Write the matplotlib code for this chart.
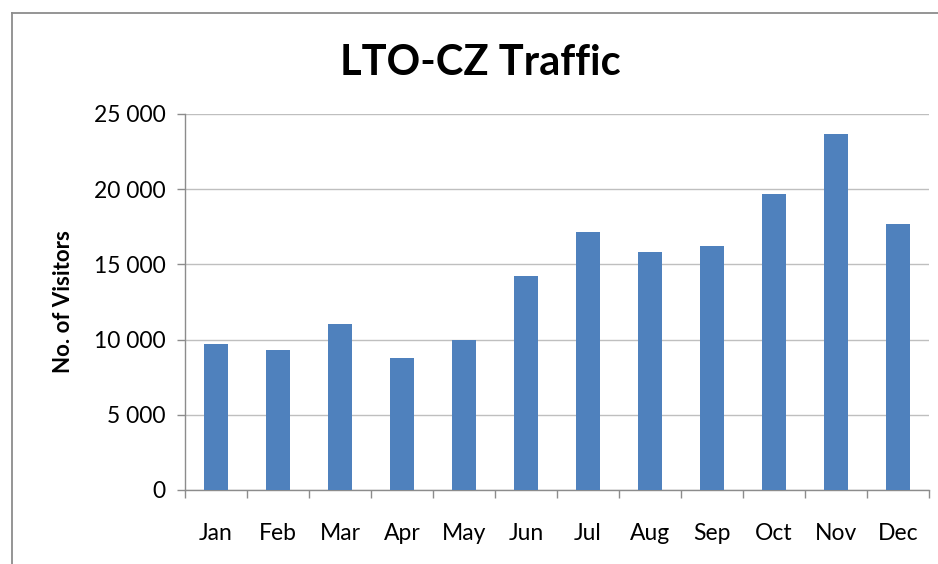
import matplotlib.pyplot as plt
from matplotlib.ticker import FuncFormatter
from matplotlib.lines import Line2D

months = ["Jan", "Feb", "Mar", "Apr", "May", "Jun", "Jul", "Aug", "Sep", "Oct", "Nov", "Dec"]
visitors = [9700, 9300, 11050, 8780, 9980, 14200, 17150, 15820, 16220, 19680, 23680, 17700]
y_ticks = [0, 5000, 10000, 15000, 20000, 25000]

plt.rcParams['font.family'] = ['Lato', 'DejaVu Sans']

fig = plt.figure(figsize=(9.38, 5.64), dpi=100)
ax = fig.add_axes([185 / 938, 1 - 490 / 564, (929 - 185) / 938, (490 - 114) / 564])

# outer chart border, only top and left visible in the reference
bx, by = 11.5 / 938, 1 - 12.5 / 564
fig.lines.append(Line2D([bx, 1.0], [by, by], transform=fig.transFigure, color="#8c8c8c", linewidth=1.3))
fig.lines.append(Line2D([bx, bx], [0.0, by], transform=fig.transFigure, color="#8c8c8c", linewidth=1.3))

x = list(range(len(months)))
ax.bar(x, visitors, width=0.39, color="#4f81bd", zorder=3)

ax.set_xlim(-0.5, len(months) - 0.5)
ax.set_ylim(0, 25000)
ax.set_yticks(y_ticks)
ax.yaxis.set_major_formatter(FuncFormatter(lambda v, p: f"{int(v):,}".replace(",", " ")))
ax.set_xticks(x)
ax.set_xticklabels(months)
ax.set_xticks([i - 0.5 for i in range(len(months) + 1)], minor=True)
ax.tick_params(axis="x", which="major", length=0, pad=24, labelsize=16.5)
ax.tick_params(axis="x", which="minor", length=6, color="#8c8c8c", width=1)
ax.tick_params(axis="y", length=6, color="#8c8c8c", width=1, pad=8, labelsize=16.5)

ax.grid(axis="y", color="#bfbfbf", linewidth=1, zorder=0)
for side in ["top", "right"]:
    ax.spines[side].set_visible(False)
for side in ["left", "bottom"]:
    ax.spines[side].set_color("#8c8c8c")
    ax.spines[side].set_linewidth(1)

ax.set_ylabel("No. of Visitors", fontsize=16, fontweight="bold", labelpad=14)
fig.text(480 / 938, 1 - 63 / 564, "LTO-CZ Traffic", fontsize=30, fontweight="bold",
         ha="center", va="center")

fig.savefig("out.png", dpi=100)
